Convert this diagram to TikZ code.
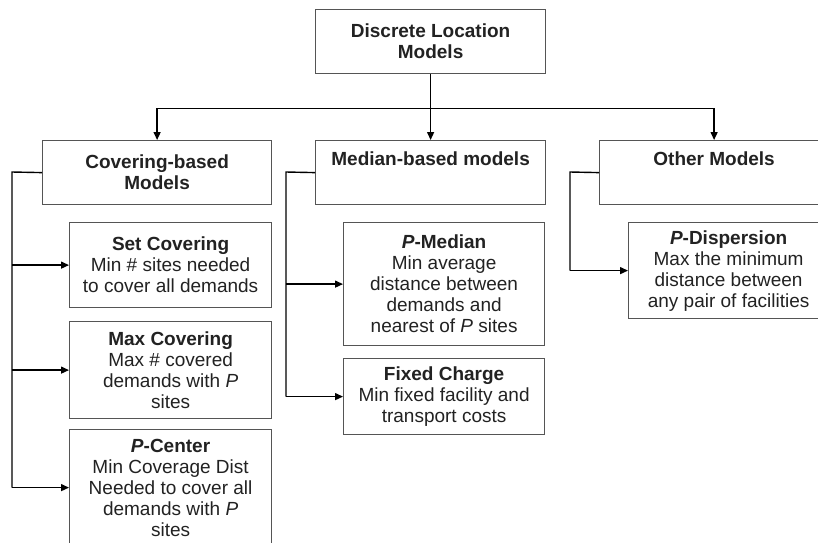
\documentclass[tikz,border=0pt]{standalone}
\usepackage{fontspec}
\setmainfont{Liberation Sans}
\usetikzlibrary{arrows.meta,calc}
\definecolor{boxline}{HTML}{555555}
\definecolor{txt}{HTML}{222222}
\tikzset{
  mbox/.style={draw=boxline, line width=1.2pt, inner sep=0pt, anchor=north west, align=center,
    text=txt, font=\fontsize{19}{21}\selectfont},
  conn/.style={draw=black, line width=1.4pt},
  arr/.style={conn, -{Triangle[length=8pt,width=7pt]}},
}
\begin{document}
\begin{tikzpicture}[x=1pt,y=-1pt]
\clip (0,0) rectangle (818,542);
\fill[white] (0,0) rectangle (818,542);
% level 1
\node[mbox, minimum width=230, minimum height=64] (top) at (315,9) {\textbf{Discrete Location}\\\textbf{Models}};
% level 2
\node[mbox, minimum width=229, minimum height=64] (cov) at (42,140) {\textbf{Covering-based}\\\textbf{Models}};
\node[mbox, minimum width=230, minimum height=64] (med) at (315,140) {\textbf{Median-based models}\\\strut};
\node[mbox, minimum width=229, minimum height=64] (oth) at (599,140) {\textbf{Other Models}\\\strut};
% covering children
\node[mbox, minimum width=202, minimum height=85] (setcov) at (69,222) {\textbf{Set Covering}\\Min \# sites needed\\to cover all demands};
\node[mbox, minimum width=202, minimum height=97] (maxcov) at (69,321) {\textbf{Max Covering}\\Max \# covered\\demands with \textit{P}\\sites};
\node[mbox, minimum width=202, minimum height=116] (pcen) at (69,429) {\textbf{\textit{P}-Center}\\Min Coverage Dist\\Needed to cover all\\demands with \textit{P}\\sites};
% median children
\node[mbox, minimum width=201, minimum height=123] (pmed) at (343,222) {\textbf{\textit{P}-Median}\\Min average\\distance between\\demands and\\nearest of \textit{P} sites};
\node[mbox, minimum width=201, minimum height=76] (fix) at (343,358) {\textbf{Fixed Charge}\\Min fixed facility and\\transport costs};
% other children
\node[mbox, minimum width=200, minimum height=96] (pdis) at (628,222) {\textbf{\textit{P}-Dispersion}\\Max the minimum\\distance between\\any pair of facilities};
% top connectors
\coordinate (j) at ($(top.south)+(0,34)$);
\draw[conn] (top.south) -- (j);
\draw[arr] (j) -| (cov.north);
\draw[arr] (j) -- (med.north);
\draw[arr] (j) -| (oth.north);
% covering side
\coordinate (cl) at (12,172);
\draw[conn] (cov.west) -- (cl) -- (cl |- pcen.west);
\draw[arr] (cl |- setcov.west) -- (setcov.west);
\draw[arr] (cl |- maxcov.west) -- (maxcov.west);
\draw[arr] (cl |- pcen.west) -- (pcen.west);
% median side
\coordinate (ml) at (286,172);
\draw[conn] (med.west) -- (ml) -- (ml |- fix.west);
\draw[arr] (ml |- pmed.west) -- (pmed.west);
\draw[arr] (ml |- fix.west) -- (fix.west);
% other side
\coordinate (ol) at (570,172);
\draw[conn] (oth.west) -- (ol) -- (ol |- pdis.west);
\draw[arr] (ol |- pdis.west) -- (pdis.west);
\end{tikzpicture}
\end{document}
